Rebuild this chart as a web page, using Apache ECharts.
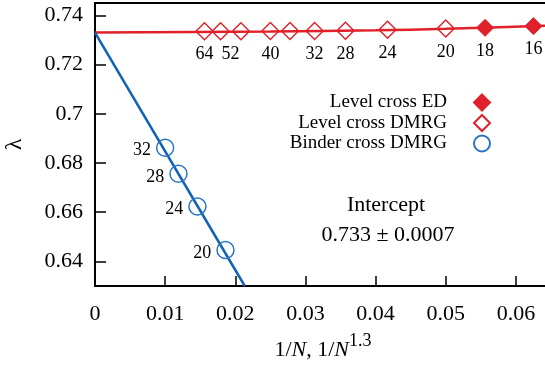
<!DOCTYPE html>
<html>
<head>
<meta charset="utf-8">
<script src="https://cdn.jsdelivr.net/npm/echarts@6/dist/echarts.min.js"></script>
<style>
  html, body { margin: 0; padding: 0; background: #fff; }
  #chart { width: 545px; height: 374px; }
</style>
</head>
<body>
<div id="chart"></div>
<script>
// Extrapolated crossing value at 1/N -> 0
const intercept = 0.733;
const interceptErr = 0.0007;

// Level crossing, DMRG (open diamonds)
const dmrgX = [0.0156, 0.0179, 0.0208, 0.0250, 0.0278, 0.0313, 0.0357, 0.0417, 0.0500];
const dmrgY = [0.7335, 0.7335, 0.7335, 0.7336, 0.7336, 0.7336, 0.7337, 0.7341, 0.7346];
const dmrgLabels = ['64', '52', '', '40', '', '32', '28', '24', '20'];

// Level crossing, exact diagonalisation (filled diamonds)
const edX = [0.0556, 0.0625];
const edY = [0.7349, 0.7356];
const edLabels = ['18', '16'];

// Binder cumulant crossing, DMRG (open circles)
const binderX = [0.0100, 0.0119, 0.0146, 0.0186];
const binderY = [0.6862, 0.6756, 0.6623, 0.6446];
const binderLabels = ['32', '28', '24', '20'];

// Fitted curves
const levelFitX = [0, 0.025, 0.040, 0.050, 0.065];
const levelFitY = [intercept, 0.7334, 0.7339, 0.7345, 0.7358];
const binderFitX = [0, 0.02135];
const binderFitY = [intercept, 0.630];

const xTicks = [0, 0.01, 0.02, 0.03, 0.04, 0.05, 0.06];

const RED = '#e0202a';
const BLUE = '#0f62b4';
const BLUE_PT = '#2a74c4';
const SERIF = '"Liberation Serif", "DejaVu Serif", serif';

const zip = (xs, ys) => xs.map((x, i) => [x, ys[i]]);
const fmt = v => String(Math.round(v * 100) / 100);

const chart = echarts.init(document.getElementById('chart'), null, { renderer: 'canvas' });

chart.setOption({
  animation: false,
  backgroundColor: '#fff',
  grid: {
    left: 95, right: -6, top: 3, bottom: 88,
    outerBoundsMode: 'none', containLabel: false,
    show: true, borderColor: '#000', borderWidth: 2, backgroundColor: 'transparent'
  },
  xAxis: {
    type: 'value', min: 0, max: 0.065, interval: 0.01,
    axisLine: { show: true, onZero: false, lineStyle: { color: '#000', width: 2 } },
    axisTick: { show: true, inside: true, length: 10, lineStyle: { color: '#000', width: 1.5 } },
    axisLabel: {
      margin: 17, color: '#000', fontFamily: SERIF, fontSize: 22,
      showMaxLabel: false,
      formatter: v => (xTicks.some(t => Math.abs(t - v) < 1e-9) ? fmt(v) : '')
    },
    splitLine: { show: false },
    name: '{a|1/}{i|N}{a|, 1/}{i|N}{s|1.3}',
    nameLocation: 'middle',
    nameGap: 46,
    nameTextStyle: {
      color: '#000',
      rich: {
        a: { fontFamily: SERIF, fontSize: 22, color: '#000', lineHeight: 36 },
        i: { fontFamily: SERIF, fontSize: 22, fontStyle: 'italic', color: '#000', lineHeight: 36 },
        s: { fontFamily: SERIF, fontSize: 18, color: '#000', lineHeight: 12, verticalAlign: 'top' }
      }
    }
  },
  yAxis: {
    type: 'value', min: 0.63, max: 0.745,
    axisLine: { show: true, onZero: false, lineStyle: { color: '#000', width: 2 } },
    axisTick: { show: true, inside: true, length: 11, lineStyle: { color: '#000', width: 1.5 } },
    axisLabel: {
      margin: 12, color: '#000', fontFamily: SERIF, fontSize: 22,
      showMinLabel: false, showMaxLabel: false,
      formatter: v => fmt(v)
    },
    splitLine: { show: false },
    name: 'λ',
    nameLocation: 'middle',
    nameGap: 68,
    nameTextStyle: { color: '#000', fontFamily: SERIF, fontSize: 24 }
  },
  legend: {
    data: ['Level cross ED', 'Level cross DMRG', 'Binder cross DMRG'],
    orient: 'vertical', align: 'right',
    right: 49, top: 88,
    itemWidth: 16, itemHeight: 16, itemGap: 1.5,
    textStyle: { color: '#000', fontFamily: SERIF, fontSize: 19, lineHeight: 16, padding: [0, 22, 0, 0] }
  },
  graphic: [
    {
      type: 'text', x: 386, y: 205,
      style: { text: 'Intercept', font: '22px ' + SERIF, fill: '#000', align: 'center', verticalAlign: 'middle' }
    },
    {
      type: 'text', x: 388, y: 235,
      style: {
        text: intercept.toFixed(3) + ' ± ' + interceptErr.toFixed(4),
        font: '22px ' + SERIF, fill: '#000', align: 'center', verticalAlign: 'middle'
      }
    }
  ],
  series: [
    {
      name: 'levelFit', type: 'line', data: zip(levelFitX, levelFitY),
      showSymbol: false, silent: true, smooth: 0.3, z: 1,
      lineStyle: { color: RED, width: 2.5 }
    },
    {
      name: 'binderFit', type: 'line', data: zip(binderFitX, binderFitY),
      showSymbol: false, silent: true, z: 1,
      lineStyle: { color: BLUE, width: 2.5 }
    },
    {
      name: 'Level cross ED', type: 'scatter', data: zip(edX, edY),
      symbol: 'diamond', symbolSize: 17, z: 3,
      itemStyle: { color: RED, borderColor: RED, borderWidth: 1, opacity: 1 },
      label: {
        show: true, position: 'bottom', distance: 5,
        color: '#000', fontFamily: SERIF, fontSize: 18,
        formatter: p => edLabels[p.dataIndex]
      }
    },
    {
      name: 'Level cross DMRG', type: 'scatter',
      data: dmrgX.map((x, i) => ({
        value: [x, dmrgY[i]],
        label: { offset: [dmrgLabels[i] === '52' ? 10 : 0, 0] }
      })),
      symbol: 'diamond', symbolSize: 17, z: 3,
      itemStyle: { color: 'rgba(255,255,255,0)', borderColor: RED, borderWidth: 1.4, opacity: 1 },
      label: {
        show: true, position: 'bottom', distance: 5,
        color: '#000', fontFamily: SERIF, fontSize: 18,
        formatter: p => dmrgLabels[p.dataIndex]
      }
    },
    {
      name: 'Binder cross DMRG', type: 'scatter', data: zip(binderX, binderY),
      symbol: 'circle', symbolSize: 17, z: 3,
      itemStyle: { color: 'rgba(255,255,255,0)', borderColor: BLUE_PT, borderWidth: 1.5, opacity: 1 },
      label: {
        show: true, position: 'left', distance: 5, offset: [0, 3],
        color: '#000', fontFamily: SERIF, fontSize: 18,
        formatter: p => binderLabels[p.dataIndex]
      }
    }
  ]
});
</script>
</body>
</html>
